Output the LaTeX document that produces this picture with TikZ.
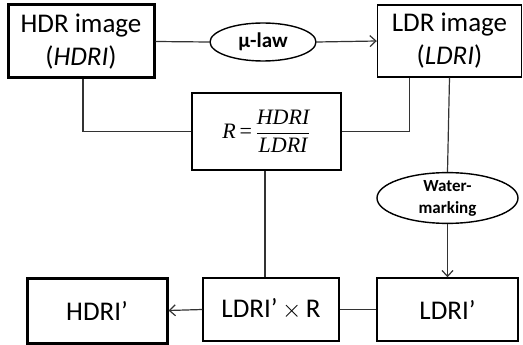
\documentclass[tikz,border=0pt]{standalone}
\usepackage{fontspec}
\setmainfont{Carlito}
\newfontfamily\serifmath{Liberation Serif}
\usetikzlibrary{shapes.geometric,arrows.meta}

\begin{document}
\begin{tikzpicture}[x=1pt,y=-1pt,
    box/.style={draw,line width=1.4pt,inner sep=0pt,align=center,
        minimum width=145pt,minimum height=72pt,font=\fontsize{27}{33}\selectfont},
    thickbox/.style={box,line width=3pt},
    oval/.style={draw,ellipse,line width=1.4pt,inner sep=0pt,align=center,
        font=\bfseries\fontsize{17}{22}\selectfont},
    link/.style={line width=1.2pt,black!80},
    flow/.style={link,-{Straight Barb[length=6pt,width=11pt]}}]
    \useasboundingbox (0,0) rectangle (523,345);
    % top row
    \node[thickbox,minimum width=146pt,minimum height=73pt] (hdr) at (81,41.5)
        {HDR image\\(\textit{HDRI})};
    \node[box,minimum width=144pt] (ldr) at (449.5,41) {LDR image\\(\textit{LDRI})};
    \node[oval,minimum width=106pt,minimum height=38pt,
        font=\bfseries\fontsize{21}{22}\selectfont] (mulaw) at (263,42) {µ-law};
    % ratio
    \node[box,line width=2pt,minimum width=149pt,minimum height=77pt] (ratio) at (266.5,131.5)
        {\serifmath\fontsize{22}{26}\selectfont\itshape R\,\upshape=\,%
         $\displaystyle\frac{\mbox{\serifmath\fontsize{22}{26}\selectfont\itshape HDRI}}%
         {\mbox{\serifmath\fontsize{22}{26}\selectfont\itshape LDRI}}$};
    \node[oval,minimum width=141pt,minimum height=50pt] (wm) at (447.5,198) {Water-\\marking};
    % bottom row
    \node[thickbox,minimum width=140pt,minimum height=65pt] (hdrp) at (97,310.5) {HDRI’};
    \node[box,minimum width=136pt,minimum height=63pt] (mult) at (271,309.5) {LDRI’\,$\times$\,R};
    \node[box,minimum width=141pt,minimum height=63pt] (ldrp) at (447.5,309.5) {LDRI’};
    % connectors
    \draw[link] (hdr.east) -- (mulaw.west);
    \draw[flow] (mulaw.east) -- (ldr.west);
    \draw[link] ([xshift=2pt]hdr.south) |- (ratio.west);
    \draw[link] ([xshift=-40pt]ldr.south) |- (ratio.east);
    \draw[link] (ldr.south) -- (wm.north);
    \draw[flow] (wm.south) -- (ldrp.north);
    \draw[link] ([xshift=-1.5pt]ratio.south) -- ([xshift=-1.5pt]ratio.south |- mult.north);
    \draw[link] (ldrp.west) -- (mult.east);
    \draw[flow] (mult.west) -- (hdrp.east);
\end{tikzpicture}
\end{document}
